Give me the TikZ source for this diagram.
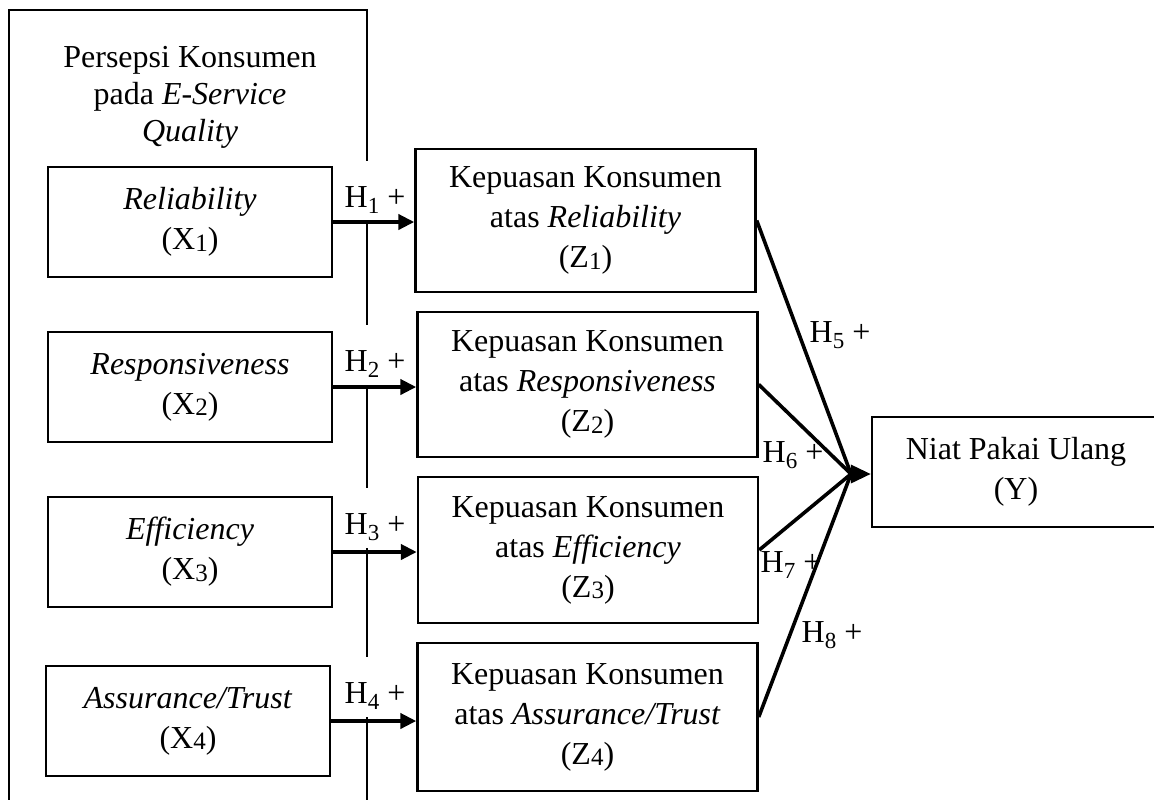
\documentclass[tikz,border=0pt]{standalone}
\usepackage{fontspec}
\setmainfont{Liberation Serif}
\usetikzlibrary{arrows.meta}
\newcommand\lsub[1]{\raisebox{-0.8pt}{\fontsize{12.5pt}{12.5pt}\selectfont #1}}
\newcommand\hsub[1]{\raisebox{-3.3pt}{\fontsize{11.5pt}{11.5pt}\selectfont #1}}
\begin{document}
\begin{tikzpicture}[x=0.5pt,y=-0.5pt,
  every node/.style={font=\fontsize{16pt}{20pt}\selectfont},
  xbox/.style={draw,line width=1.2pt,align=center,inner sep=0pt,minimum width=142pt,minimum height=55pt},
  zbox/.style={draw,line width=1.2pt,align=center,inner sep=0pt,minimum width=170pt,minimum height=72.5pt},
  ybox/.style={draw,line width=1.2pt,align=center,inner sep=0pt,minimum width=144pt,minimum height=55pt},
  hlab/.style={fill=white,inner xsep=1pt,inner ysep=0pt,text height=23pt,text depth=7pt,anchor=base},
  plab/.style={anchor=base,inner sep=0pt},
  conn/.style={line width=2pt,-{Triangle[length=8pt,width=7.5pt]}},
  zline/.style={line width=1.8pt},
  yarrow/.style={line width=1.8pt,-{Triangle[length=10pt,width=9pt]}}]
\useasboundingbox (0,0) rectangle (1154,799);
% outer group box (open at the bottom, cut by the page edge)
\draw[line width=1.2pt] (9,810) -- (9,10) -- (367,10) -- (367,810);
\node[align=center,font=\fontsize{16pt}{18.5pt}\selectfont] (title) at (190,97)
  {Persepsi Konsumen\\pada \textit{E-Service}\\\textit{Quality}};
% X boxes
\node[xbox] (X1) at (190,222) {\textit{Reliability}\\(X\lsub{1})};
\node[xbox] (X2) at (190,387) {\textit{Responsiveness}\\(X\lsub{2})};
\node[xbox] (X3) at (190,552) {\textit{Efficiency}\\(X\lsub{3})};
\node[xbox] (X4) at (188,721) {\textit{Assurance/Trust}\\(X\lsub{4})};
% Z boxes
\node[zbox,minimum height=71.5pt] (Z1) at (585.5,220.5) {Kepuasan Konsumen\\atas \textit{Reliability}\\(Z\lsub{1})};
\node[zbox] (Z2) at (587.5,384.5) {Kepuasan Konsumen\\atas \textit{Responsiveness}\\(Z\lsub{2})};
\node[zbox,minimum height=73pt] (Z3) at (588,550) {Kepuasan Konsumen\\atas \textit{Efficiency}\\(Z\lsub{3})};
\node[zbox,minimum height=74pt] (Z4) at (587.5,717) {Kepuasan Konsumen\\atas \textit{Assurance/Trust}\\(Z\lsub{4})};
% Y box
\node[ybox] (Y) at (1016,472) {Niat Pakai Ulang\\(Y)};
% hypothesis labels H1-H4 (white background interrupts the group line)
\node[hlab] (h1) at (375,207) {H\hsub{1} +};
\node[hlab] (h2) at (375,371) {H\hsub{2} +};
\node[hlab] (h3) at (375,534) {H\hsub{3} +};
\node[hlab] (h4) at (375,703) {H\hsub{4} +};
% arrows X -> Z
\draw[conn] (X1.east) -- (X1.east -| Z1.west);
\draw[conn] (X2.east) -- (X2.east -| Z2.west);
\draw[conn] (X3.east) -- (X3.east -| Z3.west);
\draw[conn] (X4.east) -- (X4.east -| Z4.west);
% converging lines Z -> Y
\coordinate (c) at (851,474);
\draw[zline] (Z1.east) -- (c);
\draw[zline] (Z2.east) -- (c);
\draw[zline] (Z3.east) -- (c);
\draw[zline] (Z4.east) -- (c);
\draw[yarrow] (c) -- (c -| Y.west);
% labels H5-H8
\node[plab] (h5) at (840,342) {H\hsub{5} +};
\node[plab] (h6) at (793,462) {H\hsub{6} +};
\node[plab] (h7) at (791,572) {H\hsub{7} +};
\node[plab] (h8) at (832,642) {H\hsub{8} +};
\end{tikzpicture}
\end{document}
